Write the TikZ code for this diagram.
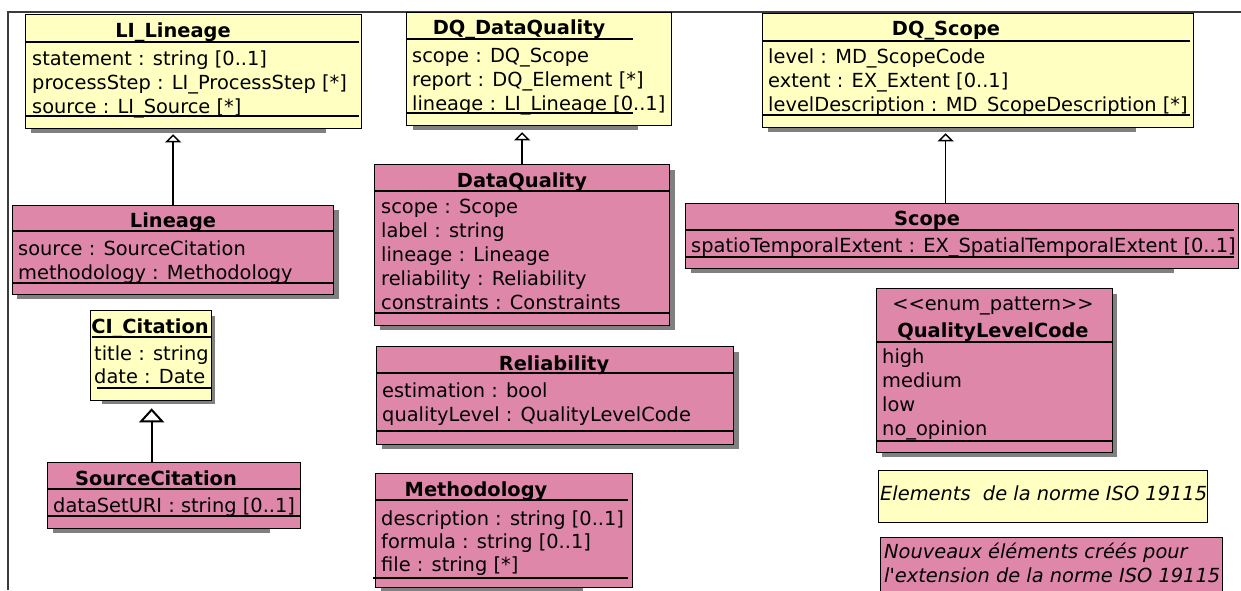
\documentclass[tikz,border=0pt]{standalone}
\usepackage{fontspec}
\newfontfamily\umlfont{DejaVu Sans}
\usetikzlibrary{arrows.meta}
\definecolor{isojaune}{RGB}{255,255,194}
\definecolor{nouveaurose}{RGB}{222,135,168}
\definecolor{ombregris}{RGB}{128,128,128}
\definecolor{cadregris}{RGB}{60,60,60}

\begin{document}
\begin{tikzpicture}
  [x=1pt,y=-1pt,
   every node/.style={font=\umlfont\fontsize{19.4}{24}\selectfont,inner sep=0pt},
   classe/.style 2 args={draw=black,line width=1.3pt,anchor=north west,minimum width=#1,minimum height=#2},
   iso/.style={fill=isojaune},
   nouveau/.style={fill=nouveaurose},
   ombre/.style={fill=ombregris},
   sep/.style={line width=1.2pt},
   titre/.style={anchor=base,font=\umlfont\fontsize{19.4}{24}\selectfont\bfseries},
   attr/.style={anchor=base west},
   italique/.style={anchor=base west,font=\umlfont\fontsize{19.4}{24}\selectfont\itshape},
   herite/.style={line width=1.4pt,-{Triangle[fill=white,width=16pt,length=8pt]}},
   heritefort/.style={line width=2pt,-{Triangle[fill=white,width=25pt,length=14pt]}}]

  \path[use as bounding box,clip] (0,0) rectangle (1241,590);

  % Cadre du diagramme
  \draw[cadregris,line width=1.3pt] (8,590) -- (8,12) -- (1241,12);

  % Ombres des classes
  \foreach \xa/\ya/\xb/\yb in {31/20/326/133, 413/18/638/130, 768/18/1136/132,
      17/210/339/299, 380/170/675/330, 691/208/1174/273, 102/316/215/404,
      53/467/270/533, 382/352/739/449, 381/478/583/592, 882/294/1117/457}
    \fill[ombre] (\xa,\ya) rectangle (\xb,\yb);

  % Classes de la norme ISO 19115
  \node[classe={336pt}{114pt},iso] (lilineage) at (25,14) {};
  \node[classe={265pt}{113pt},iso] (dqdataquality) at (406,12) {};
  \node[classe={431pt}{114pt},iso] (dqscope) at (762,13) {};
  \node[classe={121pt}{90pt},iso] (cicitation) at (90,310) {};

  % Nouvelles classes
  \node[classe={321pt}{89pt},nouveau] (lineage) at (12,205) {};
  \node[classe={295pt}{161pt},nouveau] (dataquality) at (374,164) {};
  \node[classe={553pt}{65pt},nouveau] (scope) at (685,203) {};
  \node[classe={253pt}{66pt},nouveau] (sourcecitation) at (47,462) {};
  \node[classe={357pt}{98pt},nouveau] (reliability) at (376,346) {};
  \node[classe={257pt}{114pt},nouveau] (methodology) at (375,473) {};
  \node[classe={236pt}{164pt},nouveau] (qualitylevelcode) at (876,288) {};

  % Legende
  \node[classe={329pt}{52pt},iso,line width=1pt] (legiso) at (878,470) {};
  \node[classe={342pt}{70pt},nouveau,line width=1pt] (legnouveau) at (880,537) {};

  % Separateurs des compartiments
  \foreach \xa/\y/\xb in {25/42/359, 25/116/359, 406/39/633, 406/113/633,
      762/41/1190, 762/115/1190, 12/231/333, 12/283/333, 374/191/669, 374/313/669,
      685/230/1234, 685/257/1234, 92/337/211, 97/388/211, 47/489/300, 47/516/300,
      376/373/733, 376/431/733, 375/500/628, 373/578/628, 876/342/1112, 876/441/1112}
    \draw[sep] (\xa,\y) -- (\xb,\y);

  % Noms des classes
  \node[titre] (lilineage-t) at (173,37) {LI\_Lineage};
  \node[titre] (dqdataquality-t) at (519,34) {DQ\_DataQuality};
  \node[titre] (dqscope-t) at (946,35) {DQ\_Scope};
  \node[titre] (lineage-t) at (173,227) {Lineage};
  \node[titre] (dataquality-t) at (522,187) {DataQuality};
  \node[titre] (scope-t) at (927,225) {Scope};
  \node[titre] (cicitation-t) at (150,333) {CI\_Citation};
  \node[titre] (sourcecitation-t) at (156,485) {SourceCitation};
  \node[titre] (reliability-t) at (554,370) {Reliability};
  \node[titre] (methodology-t) at (476,496) {Methodology};
  \node[anchor=base] (qualitylevelcode-s) at (993,310) {<\kern0pt<enum\_pattern>\kern0pt>};
  \node[titre] (qualitylevelcode-t) at (993,337) {QualityLevelCode};

  % Attributs
  \foreach \txt [count=\i] in {{statement : string [0..1]}, {processStep : LI\_ProcessStep [*]}, {source : LI\_Source [*]}}
    \node[attr] (lilineage-\i) at (32,{41+24*\i}) {\txt};
  \foreach \txt [count=\i] in {{scope : DQ\_Scope}, {report : DQ\_Element [*]}, {lineage : LI\_Lineage [0..1]}}
    \node[attr] (dqdataquality-\i) at (412,{38+24*\i}) {\txt};
  \foreach \txt [count=\i] in {{level : MD\_ScopeCode}, {extent : EX\_Extent [0..1]}, {levelDescription : MD\_ScopeDescription [*]}}
    \node[attr] (dqscope-\i) at (768,{39+24*\i}) {\txt};
  \foreach \txt [count=\i] in {{source : SourceCitation}, {methodology : Methodology}}
    \node[attr] (lineage-\i) at (18,{231+24*\i}) {\txt};
  \foreach \txt [count=\i] in {{scope : Scope}, {label : string}, {lineage : Lineage}, {reliability : Reliability}, {constraints : Constraints}}
    \node[attr] (dataquality-\i) at (381,{189+24*\i}) {\txt};
  \node[attr] (scope-1) at (691,252) {spatioTemporalExtent : EX\_SpatialTemporalExtent [0..1]};
  \foreach \txt [count=\i] in {{title : string}, {date : Date}}
    \node[attr] (cicitation-\i) at (94,{337+23*\i}) {\txt};
  \node[attr] (sourcecitation-1) at (53,512) {dataSetURI : string [0..1]};
  \foreach \txt [count=\i] in {{estimation : bool}, {qualityLevel : QualityLevelCode}}
    \node[attr] (reliability-\i) at (382,{373+24*\i}) {\txt};
  \foreach \txt [count=\i] in {{description : string [0..1]}, {formula : string [0..1]}, {file : string [*]}}
    \node[attr] (methodology-\i) at (381,{502+23*\i}) {\txt};
  \foreach \txt [count=\i] in {high, medium, low, no\_opinion}
    \node[attr] (qualitylevelcode-\i) at (882,{339+24*\i}) {\txt};

  % Textes de la legende
  \node[italique] (legiso-1) at (880,500) {Elements\ \ de la norme ISO 19115};
  \node[italique] (legnouveau-1) at (884,558) {Nouveaux éléments créés pour};
  \node[italique] (legnouveau-2) at (884,582) {l'extension de la norme ISO 19115};

  % Heritages
  \draw[herite] (lineage.north) -- ([yshift=-5pt]lineage.north |- lilineage.south);
  \draw[herite] (dataquality.north) -- ([yshift=-6pt]dataquality.north |- dqdataquality.south);
  \coordinate (scope-h) at ([xshift=-16.5pt]scope.north);
  \draw[herite] (scope-h) -- ([yshift=-5pt]scope-h |- dqscope.south);
  \coordinate (sourcecitation-h) at ([xshift=-22.5pt]sourcecitation.north);
  \draw[heritefort] (sourcecitation-h) -- ([yshift=-7pt]sourcecitation-h |- cicitation.south);

\end{tikzpicture}
\end{document}
